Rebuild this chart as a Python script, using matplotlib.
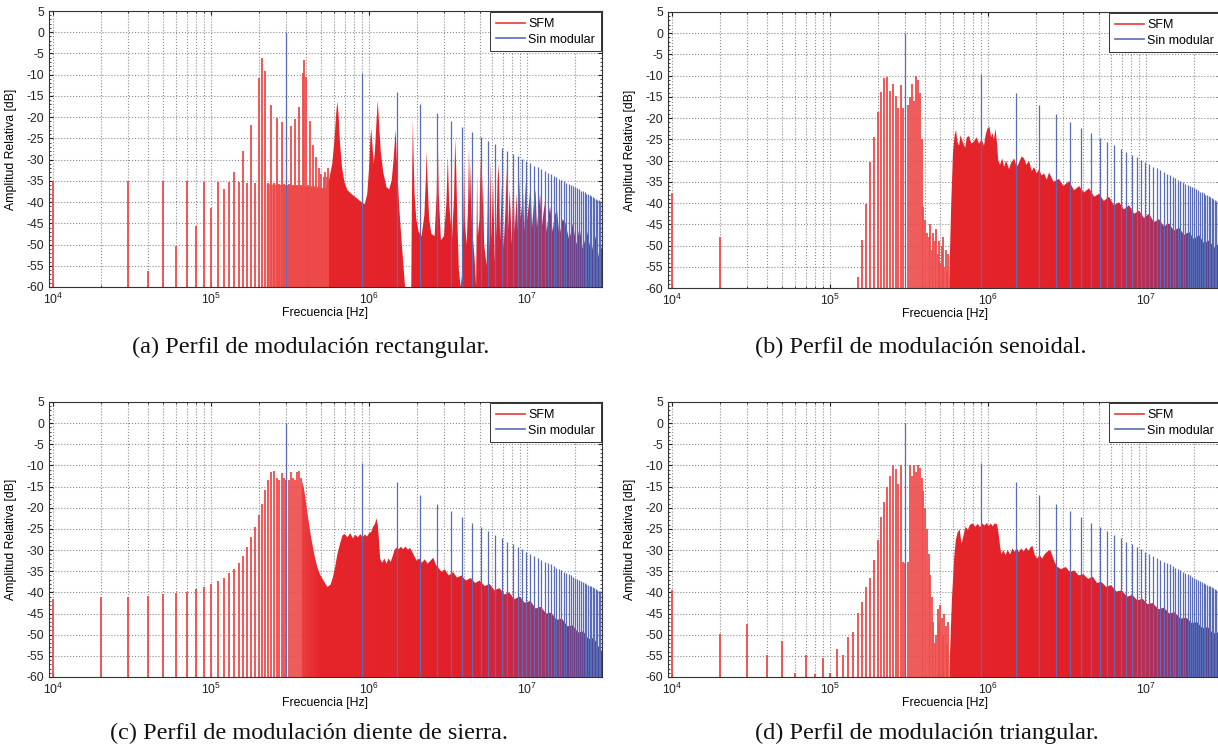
import numpy as np
import matplotlib
matplotlib.use('Agg')
import matplotlib.pyplot as plt
from matplotlib.colors import LinearSegmentedColormap
from matplotlib.patches import Polygon
from matplotlib.image import AxesImage
from matplotlib.lines import Line2D
from matplotlib.ticker import LogLocator, MultipleLocator, NullFormatter, LogFormatterSciNotation

plt.rcParams['font.family'] = ['Liberation Sans', 'DejaVu Sans']
plt.rcParams['mathtext.default'] = 'regular'
plt.rcParams['axes.unicode_minus'] = False

# ---------------- data ----------------
# Unmodulated square wave harmonics (MHz, dB)
blue_f_mhz = [0.3, 0.9, 1.5, 2.1, 2.7, 3.3, 3.9, 4.5, 5.1, 5.7, 6.3, 6.9, 7.5, 8.1, 8.7,
              9.3, 9.9, 10.5, 11.1, 11.7, 12.3, 12.9, 13.5, 14.1, 14.7, 15.3, 15.9, 16.5,
              17.1, 17.7, 18.3, 18.9, 19.5, 20.1, 20.7, 21.3, 21.9, 22.5, 23.1, 23.7, 24.3,
              24.9, 25.5, 26.1, 26.7, 27.3, 27.9, 28.5, 29.1, 29.7]
blue_db = [0, -9.5, -14.0, -16.9, -19.1, -20.8, -22.3, -23.5, -24.6, -25.6, -26.4, -27.2,
           -28.0, -28.6, -29.2, -29.8, -30.4, -30.9, -31.4, -31.8, -32.3, -32.7, -33.1, -33.4,
           -33.8, -34.2, -34.5, -34.8, -35.1, -35.4, -35.7, -36.0, -36.3, -36.5, -36.8, -37.0,
           -37.3, -37.5, -37.7, -38.0, -38.2, -38.4, -38.6, -38.8, -39.0, -39.2, -39.4, -39.6,
           -39.7, -39.9]

# (a) rectangular
a_line_khz = [10, 30, 40, 50, 60, 70, 80, 90, 100, 110, 120, 130, 140, 150, 160, 170, 180, 190,
              200, 210, 220, 230, 240, 250, 260, 270, 280, 290, 310, 320, 330, 340, 350, 360,
              370, 380, 390, 400, 410, 420, 430, 440, 450, 460, 470, 480, 490, 500, 510, 520,
              530, 540, 550]
a_line_db = [-35, -35, -56.3, -35, -50.3, -35, -45.7, -35.3, -41.4, -35.3, -37, -35.3, -32.8,
             -35.3, -27.9, -35.5, -21.8, -35.5, -10.8, -6.1, -9.2, -35.6, -17.1, -35.6, -20.2,
             -35.8, -21.2, -35.8, -35.8, -22, -36, -20.5, -36, -17.5, -36, -9.5, -6.5, -10.5,
             -36, -21, -36.2, -26.5, -36.3, -29.5, -36.4, -32, -36.5, -33.5, -36.6, -34, -33,
             -34, -32]
a_mass_khz = [225, 300, 360, 420, 480, 530, 560, 585, 605, 620, 630, 640, 655, 675, 700, 730,
              780, 830, 880, 940, 975, 1000, 1020, 1033, 1048, 1070, 1090, 1115, 1135, 1155,
              1185, 1230, 1290, 1340, 1390, 1430, 1460, 1475, 1495, 1530, 1570, 1620, 1690,
              1850, 1865, 1882, 1895, 1910, 1940, 1990, 2060, 2150, 2240, 2290, 2315, 2340,
              2400, 2480, 2600, 2680, 2720, 2760, 2850, 2980, 3090, 3150, 3210, 3350, 3450,
              3510, 3560, 3620, 3700, 3800, 3880, 3950, 3990, 4040, 4150, 4240, 4290, 4350,
              4410, 4480, 4650, 4760, 4800, 4830, 4880, 5000, 5070, 5140, 5250, 5350, 5550,
              5670, 5760, 5850, 5950, 6090, 6250, 6400, 6510, 6630, 6750, 6930, 7100, 7300,
              7410, 7550, 7770, 8000, 8190, 8350, 8610, 8800, 8970, 9100, 9450, 9600, 9750,
              9950, 10300, 10530, 10750, 11000, 11310, 11550, 11800, 12090, 12400, 12750,
              13000, 13300, 13700, 14000, 14500, 15000, 15500, 16000, 16800, 17500, 18500,
              19500, 20500, 21500, 22500, 24000, 25500, 27000, 28500, 30000]
a_mass_db = [-35.8, -36.0, -36.2, -36.5, -36.8, -37.0, -34.5, -31, -25, -19, -16.3, -19, -26,
             -32, -35.5, -37.2, -38.2, -39, -39.8, -40.5, -38, -32, -25, -22.6, -26, -31, -28,
             -21, -16, -21, -28, -33, -36.5, -37, -35, -30, -25, -23, -29, -37, -44, -51, -60,
             -60, -42, -28, -20.5, -28, -38, -44, -47, -48, -43, -34, -28, -34, -44, -47.5,
             -48, -38, -23.5, -38, -49, -48, -40, -29, -40, -48.5, -39, -25, -32, -44, -56,
             -60, -57, -44, -30, -45, -50, -40, -27, -40, -31, -46, -53, -60, -45, -33, -48,
             -44, -29, -46, -34, -50, -55, -34, -52, -30, -49, -35, -54, -46, -35, -31, -49,
             -36, -51, -42, -32, -48, -37, -50, -33, -47, -38, -49, -34, -44, -38, -47, -35,
             -45, -40, -36, -46, -41, -37, -46, -42, -38, -46, -42, -40, -47, -43, -41, -47,
             -43, -42, -48, -44, -45, -49, -45, -50, -46, -51, -47, -52, -48, -53, -50]

# (b) sinusoidal
b_line_khz = [10, 20, 150, 160, 170, 180, 190, 200, 210, 220, 230, 240, 250, 260, 270, 280,
              290, 310, 320, 330, 340, 350, 360, 370, 380, 390, 400, 410, 420, 430, 440, 450,
              460, 470, 480, 490, 500, 510, 520, 530, 540, 550, 560]
b_line_db = [-37.6, -48, -57.3, -48.6, -40.2, -30.3, -24.4, -18.5, -13.8, -10.6, -10.3, -13.5,
             -12, -14.8, -17.5, -12.3, -17.5, -17, -15, -12, -16, -10, -11, -14, -25, -41, -44,
             -47, -48, -45, -51, -47, -49, -46, -52, -49, -54, -50, -48, -55, -51, -56, -52]
b_mass_khz = [568, 585, 600, 615, 627, 640, 655, 670, 690, 716, 735, 758, 785, 815, 845, 877,
              910, 943, 965, 990, 1020, 1045, 1065, 1090, 1115, 1140, 1160, 1190, 1230, 1263,
              1300, 1358, 1400, 1461, 1520, 1571, 1630, 1690, 1750, 1818, 1890, 1955, 2030,
              2103, 2180, 2262, 2350, 2433, 2600, 2815, 3000, 3256, 3500, 3766, 4050, 4358,
              4700, 5042, 5400, 5833, 6250, 6748, 7250, 7806, 8400, 9031, 9700, 10448, 11200,
              12087, 13000, 13983, 15000, 16177, 17400, 18714, 20100, 21650, 23300, 25046,
              27000, 29000, 30000]
b_mass_db = [-58, -40, -28, -24, -22.8, -25.5, -26.5, -24, -25.5, -27, -24.5, -24.2, -26,
             -25.5, -24.5, -26, -25, -26.5, -24, -22.5, -22, -24.5, -23.5, -25, -22.5, -26, -30,
             -31, -29.5, -31.5, -30, -32, -30.5, -29.5, -31.5, -30.5, -29, -29.5, -31, -30,
             -32.5, -31.5, -33, -32, -33.5, -33, -34.5, -32.8, -35, -34.3, -36, -34.8, -37, -36,
             -37.5, -36.5, -38.5, -37.8, -39.5, -38.5, -40.5, -39.8, -41.5, -40.5, -42.5, -41.8,
             -43.5, -42.5, -44.5, -43.8, -45.5, -44.8, -46.5, -45.8, -47.5, -46.8, -48.5,
             -47.5, -49.5, -48.8, -50.5, -49.5, -51]

# (c) sawtooth
c_line_khz = [10, 20, 30, 40, 50, 60, 70, 80, 90, 100, 110, 120, 130, 140, 150, 160, 170, 180,
              190, 200, 210, 220, 230, 240, 250, 260, 270, 280, 290, 300, 310, 320, 330, 340,
              350, 360, 370]
c_line_db = [-41.5, -41.1, -41.0, -40.9, -40.5, -40.1, -39.8, -39.3, -38.7, -38.1, -37.4, -36.5,
             -35.4, -34.4, -33.1, -31.5, -29.3, -26.9, -24.6, -21.8, -19, -15.9, -13.5, -11.5,
             -11.2, -13, -13.5, -11.8, -13, -13.5, -13.5, -11.5, -13, -13.5, -11.5, -11.2, -13]
c_mass_khz = [375, 385, 395, 410, 430, 450, 470, 490, 515, 545, 570, 590, 610, 630, 655, 680,
              700, 730, 760, 790, 820, 850, 880, 910, 940, 970, 1000, 1030, 1060, 1090, 1115,
              1135, 1155, 1175, 1210, 1250, 1290, 1330, 1370, 1410, 1450, 1490, 1540, 1590,
              1640, 1700, 1760, 1820, 1880, 1940, 2000, 2080, 2160, 2250, 2350, 2450, 2550,
              2650, 2750, 2880, 3000, 3200, 3400, 3600, 3850, 4100, 4400, 4700, 5000, 5400,
              5800, 6200, 6700, 7200, 7700, 8300, 9000, 9700, 10500, 11300, 12200, 13200,
              14200, 15400, 16600, 18000, 19500, 21000, 22700, 24500, 26500, 28500, 30000]
c_mass_db = [-13.5, -15, -17.5, -22, -27, -31, -34, -35.8, -37.2, -38.7, -38.2, -36.5, -34, -31,
             -28.5, -26.5, -26.2, -27, -26, -27.2, -26.4, -27, -26.2, -27, -26.3, -26.8, -26,
             -25.8, -24.5, -23.8, -22.5, -24, -27.5, -32, -33, -32, -33.2, -32, -32.8, -31.5,
             -30, -29.4, -29.8, -29.2, -29.8, -29.2, -29.9, -29.5, -30.5, -31.5, -32.5, -32,
             -33, -32.2, -33.2, -32.5, -31.8, -33.5, -34.2, -35.2, -34.5, -36, -35.2, -36.5,
             -36, -37.2, -36.6, -37.8, -37.2, -38.5, -38, -39.5, -39, -40.5, -40, -41.6, -41,
             -42.5, -42, -43.8, -43.4, -45, -44.8, -46.5, -46.2, -48, -47.8, -49.5, -49.2, -51,
             -50.8, -53, -54]

# (d) triangular
d_line_khz = [10, 20, 30, 40, 50, 60, 70, 80, 90, 100, 110, 120, 130, 140, 150, 160, 170, 180,
              190, 200, 210, 220, 230, 240, 250, 260, 270, 280, 290, 300, 310, 320, 330, 340,
              350, 360, 370, 380, 390, 400, 410, 420, 430, 440, 450, 460, 470, 480, 490, 500,
              510, 520, 530, 540, 550, 560]
d_line_db = [-39.5, -49.8, -47.4, -54.9, -51.5, -59, -54.7, -59.4, -55.6, -59, -53.3, -54.7,
             -50.5, -49.3, -44.8, -42.2, -38.7, -36.5, -32.4, -27.7, -22.2, -18.7, -15.1, -12.4,
             -10, -10.8, -14.3, -10, -32.8, -33, -32.8, -10, -12.6, -10, -11.5, -10, -10.5, -13,
             -16, -20, -25, -31, -36, -41, -47, -52, -50, -44, -47, -43, -46, -50, -45, -48,
             -52, -47]
d_mass_khz = [570, 590, 610, 625, 640, 660, 680, 700, 720, 745, 770, 800, 830, 860, 890, 920,
              950, 980, 1010, 1040, 1070, 1100, 1140, 1165, 1190, 1215, 1250, 1290, 1330, 1380,
              1430, 1470, 1520, 1570, 1620, 1680, 1740, 1800, 1860, 1910, 1970, 2040, 2120,
              2200, 2280, 2380, 2480, 2560, 2650, 2750, 2900, 3100, 3300, 3500, 3750, 4000,
              4300, 4600, 4900, 5200, 5600, 6000, 6500, 7000, 7600, 8200, 8800, 9500, 10200,
              11000, 12000, 13000, 14000, 15200, 16500, 18000, 19500, 21000, 22800, 24600,
              26500, 28500, 30000]
d_mass_db = [-58, -42, -32, -27.7, -26, -25, -28.5, -26.5, -24.5, -25.2, -24, -23.7, -24.5,
             -23.8, -24.6, -23.7, -24.2, -23.6, -24.3, -23.7, -24.4, -23.7, -23.9, -26, -29, -31,
             -30, -31.2, -30, -31, -29.6, -30.4, -29.5, -30.5, -29.6, -30.3, -29.4, -30.2, -29.3,
             -29, -31, -32, -31.2, -32, -31, -30.3, -30, -31.5, -33, -34, -34.5, -34, -35.2,
             -34.8, -36, -35.7, -36.8, -36.3, -37.8, -37.5, -38.7, -38.3, -39.8, -39.5, -41,
             -40.6, -41.9, -41.5, -42.8, -42.5, -44, -43.6, -45, -44.7, -46.2, -46, -47.3, -47,
             -48.5, -48.2, -49.7, -49.5, -50.5]

captions = ['(a) Perfil de modulación rectangular.', '(b) Perfil de modulación senoidal.',
            '(c) Perfil de modulación diente de sierra.', '(d) Perfil de modulación triangular.']
legend_labels = ['SFM', 'Sin modular']
ylabel = 'Amplitud Relativa [dB]'
xlabel = 'Frecuencia [Hz]'

# ---------------- style ----------------
W, H = 1218, 756
fig = plt.figure(figsize=(W / 100, H / 100), dpi=100)
XMIN, XMAX = 9.43e3, 2.98e7
RED_LINE = '#ee4b4b'
BLUE = '#5a6cb6'
cmap = LinearSegmentedColormap.from_list('sfm', [
    (0.0, '#f27878'), (0.40, '#f06a6a'), (0.49, '#e6252b'), (0.74, '#e32029'),
    (0.82, '#d6243c'), (0.88, '#b82c55'), (0.94, '#7e3578'), (1.0, '#41408f')])
grad = np.linspace(0, 1, 512).reshape(1, -1)

panels = [
    (a_line_khz, a_line_db, a_mass_khz, a_mass_db),
    (b_line_khz, b_line_db, b_mass_khz, b_mass_db),
    (c_line_khz, c_line_db, c_mass_khz, c_mass_db),
    (d_line_khz, d_line_db, d_mass_khz, d_mass_db),
]
# axes boxes in pixels: left, top, right, bottom
boxes = [(49, 11, 602, 287), (668, 12, 1221, 288), (49, 402, 602, 677), (668, 402, 1221, 677)]
cap_pos = [(311, 347), (921, 347), (309, 733), (927, 733)]

for i, (lf, ldb, mf, mdb) in enumerate(panels):
    l, t, r, b = boxes[i]
    ax = fig.add_axes([l / W, 1 - b / H, (r - l) / W, (b - t) / H])
    ax.set_xscale('log')
    ax.set_xlim(XMIN, XMAX)
    ax.set_ylim(-60, 5)

    # sparse SFM lines
    ax.vlines(np.array(lf, float) * 1e3, -60, ldb, colors=RED_LINE, lw=1.3, zorder=2.2)

    # dense SFM mass with gradient colour
    mfx = np.array(mf, float) * 1e3
    verts = [(mfx[0], -60)] + list(zip(mfx, mdb)) + [(mfx[-1], -60)]
    poly = Polygon(verts, closed=True, transform=ax.transData)
    im = AxesImage(ax, cmap=cmap, interpolation='bilinear', extent=(0, 1, 0, 1),
                   transform=ax.transAxes, zorder=2.1)
    im.set_data(grad)
    ax.add_image(im)
    im.set_clip_path(poly)

    # unmodulated
    ax.vlines(np.array(blue_f_mhz) * 1e6, -60, blue_db, colors=BLUE, lw=0.9, zorder=2.5)

    # axes styling
    ax.xaxis.set_major_locator(LogLocator(base=10, numticks=10))
    ax.xaxis.set_minor_locator(LogLocator(base=10, subs=np.arange(2, 10), numticks=100))
    ax.xaxis.set_minor_formatter(NullFormatter())
    ax.xaxis.set_major_formatter(LogFormatterSciNotation())
    ax.yaxis.set_major_locator(MultipleLocator(5))
    ax.yaxis.set_minor_locator(MultipleLocator(1))
    ax.grid(True, which='major', axis='both', linestyle=':', color='#8c8c8c', lw=0.8)
    ax.grid(True, which='minor', axis='x', linestyle=':', color='#8c8c8c', lw=0.8)
    ax.set_axisbelow(True)
    ax.tick_params(which='both', direction='in', top=True, right=True, labelsize=8.8,
                   colors='#222222')
    ax.tick_params(which='major', length=3)
    ax.tick_params(which='minor', length=1.5)
    for s in ax.spines.values():
        s.set_color('#333333')
        s.set_linewidth(0.8)
    ax.set_ylabel(ylabel, fontsize=8.8)
    ax.yaxis.set_label_coords(-32 / (r - l), 0.5)
    ax.set_xlabel(xlabel, fontsize=8.8)
    ax.xaxis.set_label_coords(0.5, -0.072)

    handles = [Line2D([], [], color='#e83a3a', lw=1.2), Line2D([], [], color=BLUE, lw=1.2)]
    leg = ax.legend(handles, legend_labels, loc='upper right', fancybox=False,
                    edgecolor='#333333', framealpha=1, fontsize=9, borderaxespad=0.1,
                    handlelength=2.3, borderpad=0.45, labelspacing=0.3, handletextpad=0.3)
    leg.get_frame().set_linewidth(0.7)
    leg.set_zorder(5)

    cx, cy = cap_pos[i]
    fig.text(cx / W, 1 - cy / H, captions[i], ha='center', va='center',
             family=['Liberation Serif', 'DejaVu Serif'], fontsize=17.5, color='#111111')

fig.savefig('out.png', dpi=100, facecolor='white')
